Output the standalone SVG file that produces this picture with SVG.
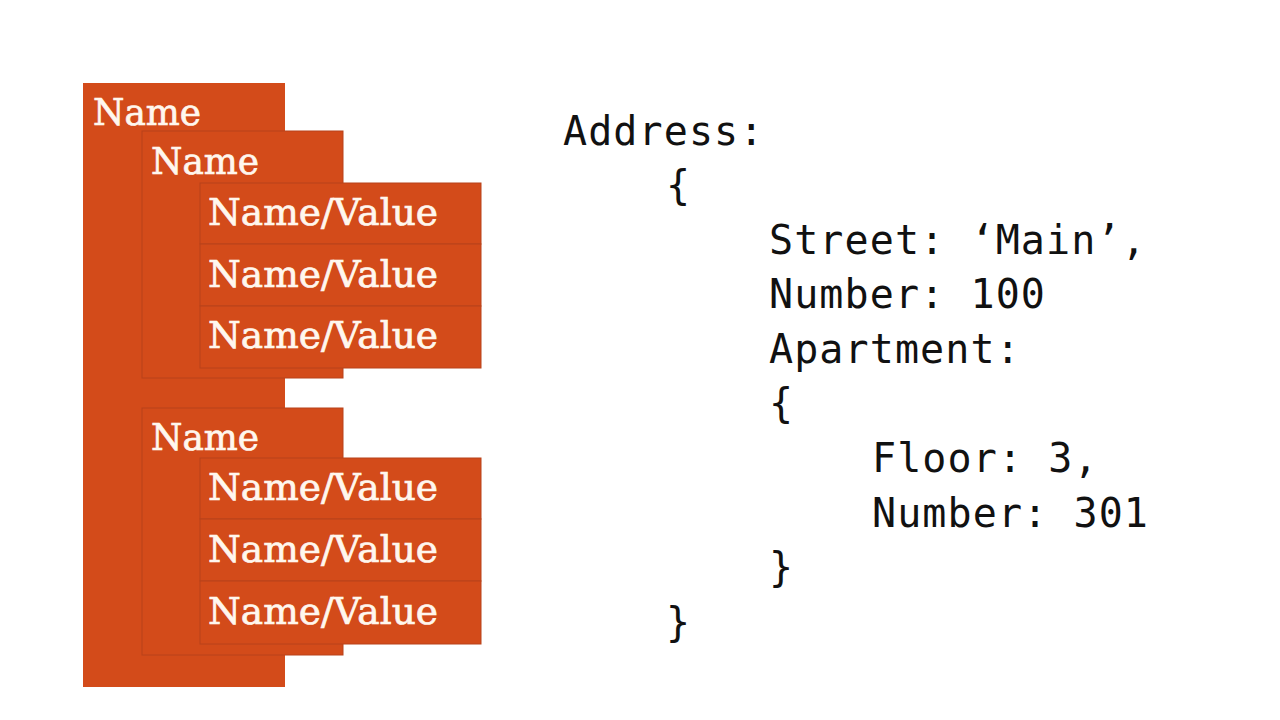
<svg xmlns="http://www.w3.org/2000/svg" width="1280" height="720" viewBox="0 0 1280 720">
<style>
.box{fill:#D34B1A;stroke:#B8421A;stroke-width:1}
.outer{fill:#D34B1A;stroke:none}
.lbl{font-family:"DejaVu Serif","Liberation Serif",serif;font-size:37px;fill:#FFF7EE;stroke:#FFF7EE;stroke-width:0.7px}
.code{font-family:"DejaVu Sans Mono","Liberation Mono",monospace;font-size:40px;letter-spacing:1.1px;fill:#111}
</style>
<rect width="1280" height="720" fill="#ffffff"/>
<g id="root">
<rect class="outer" x="83" y="83" width="202" height="604"/>
<text class="lbl" x="93" y="125" textLength="108" lengthAdjust="spacingAndGlyphs">Name</text>
</g>
<g id="group1">
<rect class="box" x="142" y="131" width="201" height="247"/>
<text class="lbl" x="151" y="174" textLength="108" lengthAdjust="spacingAndGlyphs">Name</text>
</g>
<g id="nv1a"><rect class="box" x="200" y="183" width="281" height="61"/><text class="lbl" x="208" y="225" textLength="230" lengthAdjust="spacingAndGlyphs">Name/Value</text></g>
<g id="nv1b"><rect class="box" x="200" y="244" width="281" height="62"/><text class="lbl" x="208" y="287" textLength="230" lengthAdjust="spacingAndGlyphs">Name/Value</text></g>
<g id="nv1c"><rect class="box" x="200" y="306" width="281" height="62"/><text class="lbl" x="208" y="348" textLength="230" lengthAdjust="spacingAndGlyphs">Name/Value</text></g>
<g id="group2">
<rect class="box" x="142" y="408" width="201" height="247"/>
<text class="lbl" x="151" y="450" textLength="108" lengthAdjust="spacingAndGlyphs">Name</text>
</g>
<g id="nv2a"><rect class="box" x="200" y="458" width="281" height="61"/><text class="lbl" x="208" y="500" textLength="230" lengthAdjust="spacingAndGlyphs">Name/Value</text></g>
<g id="nv2b"><rect class="box" x="200" y="519" width="281" height="62"/><text class="lbl" x="208" y="562" textLength="230" lengthAdjust="spacingAndGlyphs">Name/Value</text></g>
<g id="nv2c"><rect class="box" x="200" y="581" width="281" height="63"/><text class="lbl" x="208" y="624" textLength="230" lengthAdjust="spacingAndGlyphs">Name/Value</text></g>
<g id="connectors"/>
<g id="code">
<text class="code" x="563" y="145">Address:</text>
<text class="code" x="666" y="199">{</text>
<text class="code" x="769" y="254">Street: ‘Main’,</text>
<text class="code" x="769" y="308">Number: 100</text>
<text class="code" x="769" y="363">Apartment:</text>
<text class="code" x="769" y="417">{</text>
<text class="code" x="872" y="472">Floor: 3,</text>
<text class="code" x="872" y="527">Number: 301</text>
<text class="code" x="769" y="581">}</text>
<text class="code" x="666" y="636">}</text>
</g>
</svg>
